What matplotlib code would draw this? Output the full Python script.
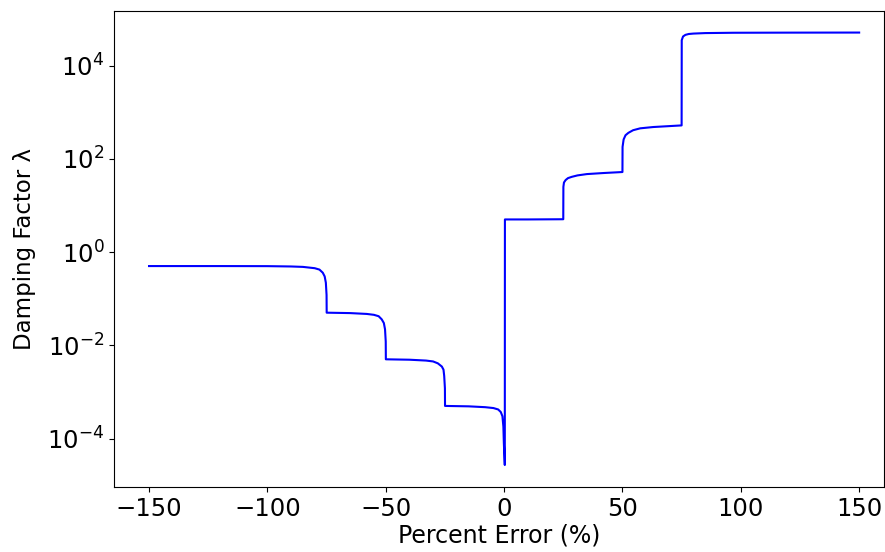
import numpy as np
import matplotlib
matplotlib.use("Agg")
from matplotlib import pyplot as plt

# percent error (x) and damping factor (y)
percent_error = [-150, -120, -100, -90, -85, -80, -78, -76.6, -75.8, -75.3, -75.0,
                 -74.95, -65, -58, -55, -53, -51.7, -50.8, -50.3, -50.0,
                 -49.95, -40, -33, -30, -28, -26.3, -25.6, -25.3, -25.0,
                 -24.95, -15, -8, -4.5, -2.5, -1.4, -0.7, -0.3, -0.1, 0.3,
                 0.35, 10, 25.0,
                 25.05, 25.3, 26, 27, 28.6, 31, 35, 42, 50.0,
                 50.05, 50.5, 51.3, 52.5, 54.5, 57.5, 63, 75.0,
                 75.05, 75.6, 76.6, 78, 80, 85, 97, 120, 150]
damping = [0.5, 0.5, 0.498, 0.49, 0.48, 0.45, 0.42, 0.36, 0.3, 0.22, 0.12,
           0.05, 0.049, 0.047, 0.045, 0.042, 0.036, 0.03, 0.022, 0.012,
           0.005, 0.0049, 0.0047, 0.0045, 0.0041, 0.0035, 0.003, 0.0022, 0.0012,
           0.0005, 0.00049, 0.00047, 0.00045, 0.00042, 0.00037, 0.0003, 0.00018, 0.00008, 2.7e-5,
           5.0, 5.0, 5.05,
           25, 31, 35, 38.5, 41, 44, 47, 49.5, 52,
           180, 260, 320, 360, 410, 450, 480, 520,
           35000, 42000, 45500, 47500, 48500, 49700, 50500, 50800, 51000]

fig = plt.figure(figsize=(8.85, 5.52), dpi=100)
ax = fig.add_axes([114 / 885, 1 - 487 / 552, 770 / 885, 476 / 552])

ax.plot(percent_error, damping, color='b', linewidth=1.5)
ax.set_yscale('log')
ax.set_xlim(-164.8, 160.5)
ax.set_ylim(10 ** -5.04, 10 ** 5.17)
ax.set_yticks([1e-4, 1e-2, 1e0, 1e2, 1e4])
ax.yaxis.set_minor_locator(matplotlib.ticker.NullLocator())
ax.set_xticks([-150, -100, -50, 0, 50, 100, 150])

ax.tick_params(labelsize=17.5)
ax.set_xlabel('Percent Error (%)', fontsize=17, labelpad=2)
ax.set_ylabel('Damping Factor λ', fontsize=16.5, labelpad=8)

fig.savefig('out.png', dpi=100)
